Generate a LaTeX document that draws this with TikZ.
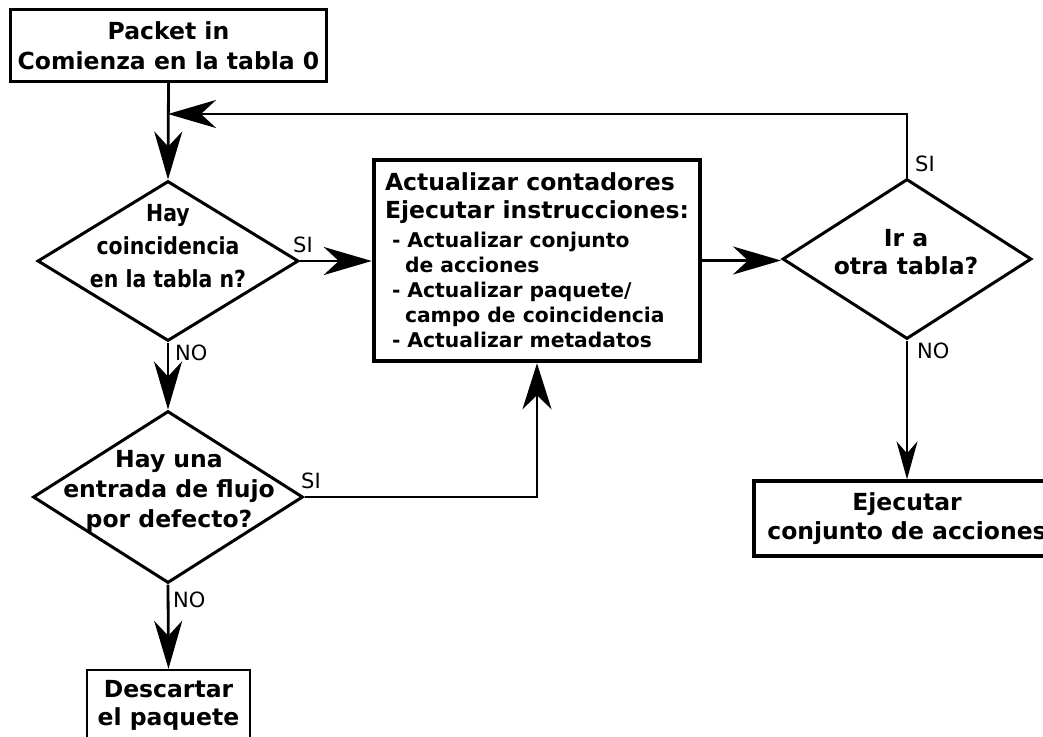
\documentclass[tikz,border=0pt]{standalone}
\usepackage{fontspec}
\setmainfont{DejaVu Sans}
\newfontfamily\condsans{DejaVu Sans}[FakeStretch=0.87]
\usetikzlibrary{shapes.geometric,arrows.meta}

\tikzset{
  box/.style={draw, line width=3.3pt, inner sep=0pt, align=center,
    font=\fontsize{23.5}{30}\selectfont\bfseries},
  diam/.style={draw, shape=diamond, line width=3pt, inner sep=0pt},
  dtext/.style={inner sep=0pt, align=center,
    font=\fontsize{23.5}{30}\selectfont\bfseries},
  lbl/.style={inner sep=0pt, font=\fontsize{21}{24}\selectfont},
  flow/.style={line width=2.8pt, -{Stealth[length=48pt, width=28pt, inset=15pt]}},
  flowthin/.style={line width=2.2pt, -{Stealth[length=46pt, width=29pt, inset=14pt]}},
  flowsmall/.style={line width=2pt, -{Stealth[length=38pt, width=21pt, inset=12pt]}},
}

\begin{document}
\begin{tikzpicture}[x=1pt, y=-1pt]
  \useasboundingbox[fill=white] (0,0) rectangle (1043,736);

  % start box
  \node[box, minimum width=316pt, minimum height=72pt] (start) at (168.5,45.5)
    {Packet in\\Comienza en la tabla 0};

  % first decision
  \node[diam, minimum width=261pt, minimum height=160pt] (d1) at (168,261) {};
  \node[dtext, font=\fontsize{23.5}{33}\selectfont\condsans\bfseries] (d1t) at (168,246.5)
    {Hay\\coincidencia\\en la tabla n?};

  % second decision
  \node[diam, minimum width=270pt, minimum height=172pt] (d2) at (168,497) {};
  \node[dtext] (d2t) at (169,491)
    {Hay una\\entrada de flujo\\por defecto?};

  % processing box
  \node[draw, line width=4.5pt, inner sep=0pt, align=left,
        minimum width=326pt, minimum height=201pt,
        font=\fontsize{20.3}{25}\selectfont\bfseries] (proc) at (537,260.5)
    {{\fontsize{23.5}{28}\selectfont Actualizar contadores}\\[3pt]
     {\fontsize{23.5}{28}\selectfont Ejecutar instrucciones:}\\[4pt]
     \hspace{7pt}- Actualizar conjunto\\
     \hspace{20pt}de acciones\\
     \hspace{7pt}- Actualizar paquete/\\
     \hspace{20pt}campo de coincidencia\\
     \hspace{7pt}- Actualizar metadatos};

  % third decision
  \node[diam, minimum width=249pt, minimum height=160pt] (d3) at (907,259) {};
  \node[dtext, font=\fontsize{23.5}{28}\selectfont\bfseries] (d3t) at (906,252.5)
    {Ir a\\otra tabla?};

  % end boxes
  \node[box, line width=2.3pt, minimum width=163pt, minimum height=70pt,
        font=\fontsize{23.5}{28}\selectfont\bfseries] (drop) at (168.5,705)
    {Descartar\\el paquete};
  \node[box, minimum width=306pt, minimum height=75pt,
        font=\fontsize{23.5}{29}\selectfont\bfseries] (exec) at (907,518.5)
    {Ejecutar\\conjunto de acciones};

  \coordinate (loop) at (168,114);

  % connectors
  \draw[flow] (start.south) -- (d1.north);
  \draw[flow] (d3.north) |- (loop);
  \draw[flow] (d1.east) -- (d1.east -| proc.west);
  \draw[flow] (proc.east) -- (proc.east -| d3.west);
  \draw[flow] (d1.south) -- (d2.north);
  \draw[flowthin] (d2.east) -| (proc.south);
  \draw[flow] (d2.south) -- (drop.north);
  \draw[flowsmall] (d3.south) -- (exec.north);

  % branch labels
  \node[lbl, anchor=base west] (si1) at (293,252) {SI};
  \node[lbl, anchor=base west] (no1) at (175,360) {NO};
  \node[lbl, anchor=base west] (si2) at (301,488) {SI};
  \node[lbl, anchor=base west] (no2) at (173,607) {NO};
  \node[lbl, anchor=base west] (si3) at (915,171) {SI};
  \node[lbl, anchor=base west] (no3) at (917,358) {NO};
\end{tikzpicture}
\end{document}
